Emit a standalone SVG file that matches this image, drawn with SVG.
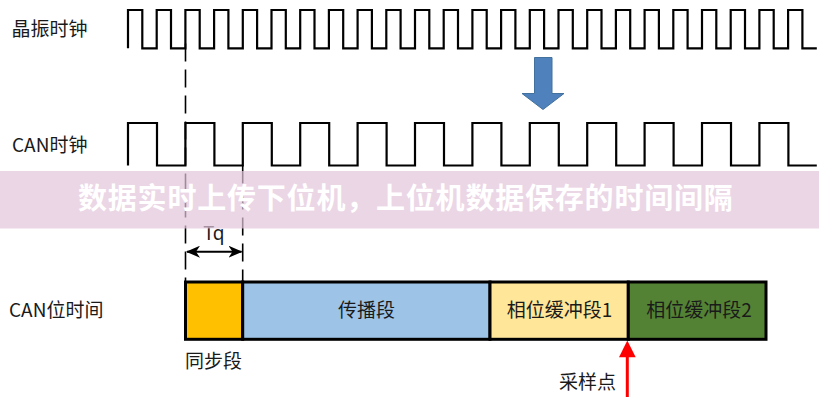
<svg xmlns="http://www.w3.org/2000/svg" width="819" height="400" viewBox="0 0 819 400">
<style>
.lbl{font-family:"Noto Sans CJK SC","Noto Sans",sans-serif;font-size:19px;fill:#1a1a1a}
.clk{fill:none;stroke:#000;stroke-width:2.2;stroke-linejoin:miter}
.dash{fill:none;stroke:#000;stroke-width:1.6;stroke-dasharray:18 8}
.seg{stroke:#000;stroke-width:3}
.banner{font-family:"Noto Sans CJK SC",sans-serif;font-size:29px;font-weight:700;fill:#fff;letter-spacing:0.8px}
</style>
<defs>
<marker id="ah" viewBox="0 0 14 12" refX="13" refY="6" markerWidth="14" markerHeight="12" markerUnits="userSpaceOnUse" orient="auto-start-reverse">
<path d="M0,0 L14,6 L0,12 L4,6 Z" fill="#000"/>
</marker>
</defs>
<rect width="819" height="400" fill="#fff"/>

<g id="label-crystal"><text class="lbl" x="11.5" y="36">晶振时钟</text></g>
<g id="label-can"><text class="lbl" x="12" y="152">CAN时钟</text></g>
<g id="label-bittime"><text class="lbl" x="9" y="317">CAN位时间</text></g>

<g id="crystal-clock">
<path class="clk" d="M128,48.3 V10 h14.3 v38.3 h14.4 v-38.3 h14.3 v38.3 h14.4 v-38.3 h14.3 v38.3 h14.4 v-38.3 h14.3 v38.3 h14.4 v-38.3 h14.3 v38.3 h14.4 v-38.3 h14.3 v38.3 h14.4 v-38.3 h14.3 v38.3 h14.4 v-38.3 h14.3 v38.3 h14.4 v-38.3 h14.3 v38.3 h14.4 v-38.3 h14.3 v38.3 h14.4 v-38.3 h14.3 v38.3 h14.4 v-38.3 h14.3 v38.3 h14.4 v-38.3 h14.3 v38.3 h14.4 v-38.3 h14.3 v38.3 h14.4 v-38.3 h14.3 v38.3 h14.4 v-38.3 h14.3 v38.3 h14.4 v-38.3 h14.3 v38.3 h14.4 v-38.3 h14.3 v38.3 h14.4 v-38.3 h14.3 v38.3 h14.4 v-38.3 h14.3 v38.3 h14.4 v-38.3 h14.3 v38.3 h14.4 v-38.3 h14.3 v38.3 h14.4 v-38.3 h14.3 v38.3 h14.4 v-38.3 h14.3 v38.3 h14.4"/>
</g>

<g id="can-clock">
<path class="clk" d="M128,165.5 V123 h29 v42.5 h28.4 v-42.5 h29 v42.5 h28.4 v-42.5 h29 v42.5 h28.4 v-42.5 h29 v42.5 h28.4 v-42.5 h29 v42.5 h28.4 v-42.5 h29 v42.5 h28.4 v-42.5 h29 v42.5 h28.4 v-42.5 h29 v42.5 h28.4 v-42.5 h29 v42.5 h28.4 v-42.5 h29 v42.5 h28.4 v-42.5 h29 v42.5 h28.4 v-42.5 h29 v42.5 h28.4"/>
</g>

<g id="down-arrow">
<polygon points="534.5,57.5 552,57.5 552,93.5 564,93.5 543,109.5 522,93.5 534.5,93.5" fill="#4F81BD" stroke="#41719C" stroke-width="1"/>
</g>

<g id="connectors">
<line class="dash" x1="185.5" y1="43.5" x2="185.5" y2="282"/>
<line class="dash" x1="242.7" y1="165.5" x2="242.7" y2="282"/>
<line x1="187" y1="251.7" x2="241.5" y2="251.7" stroke="#000" stroke-width="2" marker-start="url(#ah)" marker-end="url(#ah)"/>
</g>

<g id="tq-label"><text x="214" y="240" font-family="'Noto Sans','Liberation Sans',sans-serif" font-size="19" fill="#1a1a1a" text-anchor="middle">Tq</text></g>

<g id="bit-time">
<g id="seg-sync"><rect class="seg" x="185.5" y="282" width="57.2" height="57.3" fill="#FFC000"/></g>
<g id="seg-prop"><rect class="seg" x="242.7" y="282" width="247.3" height="57.3" fill="#9DC3E6"/>
<text class="lbl" x="366.5" y="317" text-anchor="middle">传播段</text></g>
<g id="seg-phase1"><rect class="seg" x="490" y="282" width="138.3" height="57.3" fill="#FFE699"/>
<text class="lbl" x="559.5" y="317" text-anchor="middle">相位缓冲段1</text></g>
<g id="seg-phase2"><rect class="seg" x="628.3" y="282" width="137.7" height="57.3" fill="#548235"/>
<text class="lbl" x="699" y="317" text-anchor="middle">相位缓冲段2</text></g>
</g>

<g id="label-sync"><text class="lbl" x="185" y="367.5">同步段</text></g>

<g id="sample-point">
<line x1="627.3" y1="356" x2="627.3" y2="397" stroke="#F00" stroke-width="3"/>
<polygon points="627.3,340.5 635.7,357.3 619,357.3" fill="#F00"/>
<text class="lbl" x="587.5" y="389" text-anchor="middle">采样点</text>
</g>

<g id="banner">
<rect x="0" y="171" width="819" height="57.5" fill="rgb(226,196,219)" fill-opacity="0.7"/>
<text class="banner" x="78" y="209">数据实时上传下位机，上位机数据保存的时间间隔</text>
</g>
</svg>
